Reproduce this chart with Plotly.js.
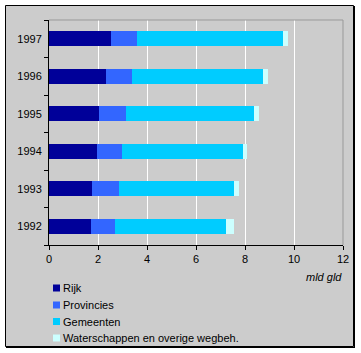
<!DOCTYPE html>
<html>
<head>
<meta charset="utf-8">
<script src="https://cdn.plot.ly/plotly-3.0.1.min.js"></script>
<style>html,body{margin:0;padding:0;background:#fff;}#chart{width:361px;height:353px;}</style>
</head>
<body>
<div id="chart"></div>
<script>
var years = ['1992', '1993', '1994', '1995', '1996', '1997'];
var seriesNames = ['Rijk', 'Provincies', 'Gemeenten', 'Waterschappen en overige wegbeh.'];
var rijk = [1.72, 1.76, 1.97, 2.05, 2.33, 2.54];
var provincies = [0.98, 1.10, 1.01, 1.10, 1.06, 1.06];
var gemeenten = [4.52, 4.69, 4.93, 5.21, 5.34, 5.94];
var waterschappen = [0.33, 0.20, 0.17, 0.20, 0.20, 0.21];
var xTicks = [0, 2, 4, 6, 8, 10, 12];
var unitLabel = 'mld gld';
var colors = ['#000099', '#3366ff', '#00ccff', '#ccffff'];

var W = 361, H = 353;
var M = {l: 49, r: 18, t: 20, b: 108};
var PW = W - M.l - M.r, PH = H - M.t - M.b;
function px(x) { return (x - M.l) / PW; }
function py(y) { return 1 - (y - M.t) / PH; }

var values = [rijk, provincies, gemeenten, waterschappen];
var traces = values.map(function (v, i) {
  return {
    type: 'bar', orientation: 'h', name: seriesNames[i],
    y: years, x: v,
    marker: {color: colors[i], line: {width: 0}},
    showlegend: false, hoverinfo: 'x+name'
  };
});

var font = {family: '"Liberation Sans", Arial, sans-serif', size: 11, color: '#000'};

var shapes = [
  // outer frame
  {type: 'rect', xref: 'paper', yref: 'paper', x0: px(5.5), x1: px(353.5), y0: py(5.5), y1: py(346.5),
   line: {color: '#000', width: 1}, fillcolor: '#cccccc', layer: 'below'},
  // thicker right / bottom edge of the frame
  {type: 'line', xref: 'paper', yref: 'paper', x0: px(354.5), x1: px(354.5), y0: py(6), y1: py(348),
   line: {color: '#000', width: 1}, layer: 'below'},
  {type: 'line', xref: 'paper', yref: 'paper', x0: px(6), x1: px(355), y0: py(347.5), y1: py(347.5),
   line: {color: '#000', width: 1}, layer: 'below'},
  // plot frame top and right (gray)
  {type: 'line', xref: 'paper', yref: 'paper', x0: 0, x1: 1, y0: 1, y1: 1, line: {color: '#999999', width: 1}, layer: 'above'},
  {type: 'line', xref: 'paper', yref: 'paper', x0: 1, x1: 1, y0: 0, y1: 1, line: {color: '#999999', width: 1}, layer: 'above'}
];
var annotations = [
  {xref: 'paper', yref: 'paper', x: px(344), y: py(277), xanchor: 'right', yanchor: 'middle',
   text: '<i>' + unitLabel + '</i>', showarrow: false, font: font}
];
var legendRowY = [288, 305, 321.5, 338];
seriesNames.forEach(function (n, i) {
  var cy = legendRowY[i];
  shapes.push({type: 'rect', xref: 'paper', yref: 'paper', x0: px(53), x1: px(60), y0: py(cy - 3.5), y1: py(cy + 3.5),
    line: {width: 0}, fillcolor: colors[i], layer: 'above'});
  annotations.push({xref: 'paper', yref: 'paper', x: px(61), y: py(cy), xanchor: 'left', yanchor: 'middle',
    text: n, showarrow: false, font: font});
});

var layout = {
  width: W, height: H,
  margin: M,
  paper_bgcolor: '#ffffff',
  plot_bgcolor: '#cccccc',
  barmode: 'stack',
  bargap: 0.6,
  showlegend: false,
  font: font,
  xaxis: {
    range: [0, 12], tickvals: xTicks, ticktext: xTicks.map(String),
    showgrid: true, gridcolor: '#ffffff', gridwidth: 1, zeroline: false,
    showline: true, linecolor: '#000', linewidth: 1,
    ticks: 'outside', ticklen: 4, tickcolor: '#000', tickfont: font, fixedrange: true
  },
  yaxis: {
    type: 'category', categoryorder: 'array', categoryarray: years,
    showgrid: false, zeroline: false,
    showline: true, linecolor: '#000', linewidth: 1,
    ticks: 'outside', tickson: 'boundaries', ticklen: 4, tickcolor: '#000',
    tickfont: font, ticklabelstandoff: 4, fixedrange: true
  },
  shapes: shapes,
  annotations: annotations
};

Plotly.newPlot('chart', traces, layout, {displayModeBar: false, staticPlot: true});
</script>
</body>
</html>
